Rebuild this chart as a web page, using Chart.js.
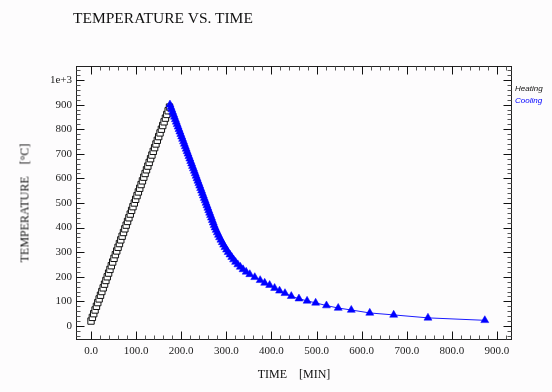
<!DOCTYPE html>
<html lang="en">
<head>
    <meta charset="UTF-8">
    <title>Temperature vs. Time</title>
    <script src="https://cdn.jsdelivr.net/npm/chart.js"></script>
    <style>
        body {
            margin: 0;
            background: #fdfcfd;
        }
        .wrap {
            position: relative;
            width: 552px;
            height: 392px;
            font-family: 'Liberation Serif', 'Times New Roman', serif;
            color: #111;
        }
        .title {
            position: absolute;
            left: 73px;
            top: 9px;
            font-size: 15.5px;
            white-space: pre;
        }
        .xlabel {
            position: absolute;
            left: 0;
            width: 588px;
            top: 367px;
            text-align: center;
            font-size: 12px;
            white-space: pre;
        }
        .ylabel {
            position: absolute;
            left: 25px;
            top: 203px;
            font-size: 12px;
            white-space: pre;
            transform: translate(-50%, -50%) rotate(-90deg);
        }
        .legend {
            position: absolute;
            left: 515px;
            font-family: 'Liberation Sans', Arial, sans-serif;
            font-style: italic;
            font-size: 8px;
        }
        canvas {
            position: absolute;
            left: 0;
            top: 0;
        }
    </style>
</head>
<body>
    <div class="wrap">
        <canvas id="tempChart" width="552" height="392"></canvas>
        <div class="title">TEMPERATURE VS. TIME</div>
        <div class="xlabel">TIME    [MIN]</div>
        <div class="ylabel">TEMPERATURE    [°C]</div>
        <div class="legend" style="top:84px; color:#111;">Heating</div>
        <div class="legend" style="top:96px; color:#0000ff;">Cooling</div>
    </div>

    <script>
        // heating run (min, °C)
        const heatTime = [0, 3, 6, 9, 12, 15, 18, 21, 24, 27, 30, 33, 36, 39, 42, 45, 48, 51, 54, 57,
            60, 63, 66, 69, 72, 75, 78, 81, 84, 87, 90, 93, 96, 99, 102, 105, 108, 111, 114, 117,
            120, 123, 126, 129, 132, 135, 138, 141, 144, 147, 150, 153, 156, 159, 162, 165, 168, 171, 174];
        const heatTemp = [20, 35, 50, 65, 80, 95, 110, 125, 140, 155, 170, 185, 200, 215, 230, 245, 260, 275, 290, 305,
            320, 335, 350, 365, 380, 395, 410, 425, 440, 455, 470, 485, 500, 515, 530, 545, 560, 575, 590, 605,
            620, 635, 650, 665, 680, 695, 710, 725, 740, 755, 770, 785, 800, 815, 830, 845, 860, 875, 890];

        // cooling run (min, °C)
        const coolTime = [175, 177, 179, 181, 183, 185, 187, 189, 191, 193, 195, 197, 199, 201, 203, 205, 207, 209, 211, 213,
            215, 217, 219, 221, 223, 225, 227, 229, 231, 233, 235, 237, 239, 241, 243, 245, 247, 249, 251, 253,
            255, 257, 259, 261, 263, 265, 267, 269, 271, 273, 275, 277.5, 280, 282.5, 285, 288, 291, 294, 297, 300.5,
            304, 308, 312, 316, 320.5, 325.5, 331, 337, 344, 352, 363,
            375, 385, 396, 407, 418, 430, 444, 461, 479, 498, 522, 548, 577, 618, 671, 747, 873];
        const coolTemp = [900, 890, 880, 870, 860, 850, 840, 830, 820, 810, 800, 790, 780, 770, 760, 750, 740, 730, 720, 710,
            700, 690, 680, 670, 660, 650, 640, 630, 620, 610, 600, 590, 580, 570, 560, 550, 540, 530, 520, 510,
            500, 490, 480, 470, 460, 450, 440, 430, 420, 410, 400, 390, 380, 370, 360, 350, 340, 330, 320, 310,
            300, 290, 280, 270, 260, 250, 240, 230, 220, 210, 198,
            186, 175, 166, 154, 143, 133, 121, 111, 102, 94, 83, 73, 65, 53, 45, 33, 23];

        const xTickValues = [0, 100, 200, 300, 400, 500, 600, 700, 800, 900];
        const xTickLabels = ['0.0', '100.0', '200.0', '300.0', '400.0', '500.0', '600.0', '700.0', '800.0', '900.0'];
        const yTickValues = [0, 100, 200, 300, 400, 500, 600, 700, 800, 900, 1000];
        const yTickLabels = ['0', '100', '200', '300', '400', '500', '600', '700', '800', '900', '1e+3'];

        const toPoints = (xs, ys) => xs.map((x, i) => ({ x: x, y: ys[i] }));

        // frame with inward major/minor ticks on all four sides
        const framePlugin = {
            id: 'frame',
            afterDraw(chart) {
                const { ctx, chartArea: a, scales } = chart;
                const L = a.left + 0.5, R = a.right - 0.5, T = a.top + 0.5, B = a.bottom - 0.5;
                ctx.save();
                ctx.lineWidth = 1;
                ctx.strokeStyle = '#222';
                ctx.strokeRect(L, T, R - L, B - T);

                for (let v = 0; v <= 920; v += 20) {
                    const px = Math.round(scales.x.getPixelForValue(v)) + 0.5;
                    const len = v % 100 === 0 ? 8 : 4;
                    ctx.strokeStyle = v % 100 === 0 ? '#111' : '#555';
                    ctx.beginPath();
                    ctx.moveTo(px, B); ctx.lineTo(px, B - len);
                    ctx.moveTo(px, T); ctx.lineTo(px, T + len);
                    ctx.stroke();
                }
                for (let v = -40; v <= 1040; v += 20) {
                    const py = Math.round(scales.y.getPixelForValue(v)) + 0.5;
                    const len = v % 100 === 0 ? 8 : 4;
                    ctx.strokeStyle = v % 100 === 0 ? '#111' : '#555';
                    ctx.beginPath();
                    ctx.moveTo(L, py); ctx.lineTo(L + len, py);
                    ctx.moveTo(R, py); ctx.lineTo(R - len, py);
                    ctx.stroke();
                }
                ctx.restore();
            }
        };

        new Chart(document.getElementById('tempChart'), {
            type: 'scatter',
            data: {
                datasets: [{
                    label: 'Cooling',
                    data: toPoints(coolTime, coolTemp),
                    showLine: true,
                    borderColor: '#1a1aff',
                    borderWidth: 1,
                    pointStyle: 'triangle',
                    pointRadius: 4.6,
                    pointBackgroundColor: '#0000ff',
                    pointBorderColor: '#0000ff',
                    pointBorderWidth: 0.5,
                    order: 0
                }, {
                    label: 'Heating',
                    data: toPoints(heatTime, heatTemp),
                    showLine: true,
                    borderColor: '#111',
                    borderWidth: 1,
                    pointStyle: 'rect',
                    pointRadius: 4.5,
                    pointBackgroundColor: '#ffffff',
                    pointBorderColor: '#111',
                    pointBorderWidth: 1,
                    order: 1
                }]
            },
            options: {
                responsive: false,
                animation: false,
                layout: {
                    padding: { top: 66, right: 40, left: 0, bottom: 0 }
                },
                plugins: {
                    legend: { display: false },
                    tooltip: { enabled: false }
                },
                scales: {
                    x: {
                        type: 'linear',
                        min: -33.3,
                        max: 933.3,
                        grid: { display: false, drawTicks: false },
                        border: { display: false },
                        afterBuildTicks: (scale) => {
                            scale.ticks = xTickValues.map(v => ({ value: v }));
                        },
                        afterFit: (scale) => { scale.height = 52; },
                        ticks: {
                            autoSkip: false,
                            maxRotation: 0,
                            padding: 5,
                            color: '#222',
                            font: { family: "'Liberation Serif', serif", size: 11 },
                            callback: (v) => xTickLabels[xTickValues.indexOf(v)]
                        }
                    },
                    y: {
                        type: 'linear',
                        min: -57,
                        max: 1057,
                        grid: { display: false, drawTicks: false },
                        border: { display: false },
                        afterBuildTicks: (scale) => {
                            scale.ticks = yTickValues.map(v => ({ value: v }));
                        },
                        afterFit: (scale) => { scale.width = 76; },
                        ticks: {
                            autoSkip: false,
                            padding: 4,
                            color: '#222',
                            font: { family: "'Liberation Serif', serif", size: 11 },
                            callback: (v) => yTickLabels[yTickValues.indexOf(v)]
                        }
                    }
                }
            },
            plugins: [framePlugin]
        });
    </script>
</body>
</html>
